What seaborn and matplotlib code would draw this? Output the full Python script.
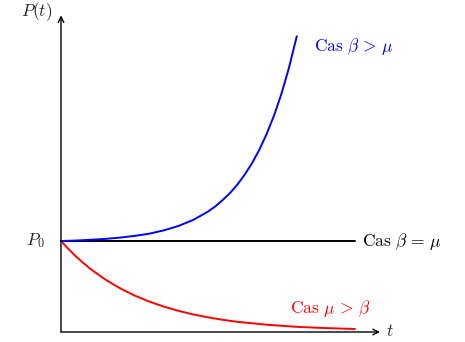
import matplotlib
matplotlib.use('Agg')
import matplotlib.pyplot as plt
import seaborn as sns

# courbes (t en unites arbitraires, P en unites de P0)
t_beta = [0, 0.5, 1, 1.5, 2, 2.5, 3, 3.5, 4, 4.5, 5, 5.25, 5.5, 5.75, 6,
          6.25, 6.5, 6.75, 7, 7.25, 7.5, 7.75, 8.02]
p_beta = [1.0, 1.005, 1.013, 1.023, 1.037, 1.056, 1.08, 1.117, 1.166, 1.232,
          1.323, 1.381, 1.45, 1.528, 1.62, 1.73, 1.856, 2.005, 2.18, 2.382,
          2.62, 2.898, 3.25]

t_eq = [0, 10]
p_eq = [1.0, 1.0]

t_mu = [0, 0.25, 0.5, 0.75, 1, 1.5, 2, 2.5, 3, 3.5, 4, 4.5, 5, 5.5, 6, 7, 8, 9, 10]
p_mu = [1.0, 0.913, 0.833, 0.761, 0.694, 0.578, 0.482, 0.401, 0.335, 0.279,
        0.232, 0.193, 0.161, 0.134, 0.112, 0.08, 0.057, 0.043, 0.033]

labels = [r'$\mathrm{Cas}\ \beta\,>\,\mu$', r'$\mathrm{Cas}\ \beta\,=\,\mu$',
          r'$\mathrm{Cas}\ \mu\,>\,\beta$']

sns.set_style('white')
plt.rcParams['font.family'] = ['DejaVu Serif']
plt.rcParams['mathtext.fontset'] = 'cm'

fig = plt.figure(figsize=(4.65, 3.42), dpi=100)
ax = fig.add_axes([0, 0, 1, 1])
ax.set_xlim(-61 / 29.4, 404 / 29.4)
ax.set_ylim(-10 / 91, 332 / 91)
ax.axis('off')

# axes avec fleches
ax.annotate('', xy=(10.85, 0), xytext=(0, 0),
            arrowprops=dict(arrowstyle='->', lw=1.0, color='black', shrinkA=0, shrinkB=0))
ax.annotate('', xy=(0, 3.48), xytext=(0, 0),
            arrowprops=dict(arrowstyle='->', lw=1.0, color='black', shrinkA=0, shrinkB=0))

sns.lineplot(x=t_eq, y=p_eq, color='black', lw=1.4, ax=ax, sort=False, estimator=None)
sns.lineplot(x=t_mu, y=p_mu, color='red', lw=1.4, ax=ax, sort=False, estimator=None)
sns.lineplot(x=t_beta, y=p_beta, color='blue', lw=1.4, ax=ax, sort=False, estimator=None)

fs = 12.5
ax.text(-0.3, 3.52, r'$P(t)$', fontsize=fs, ha='right', va='center')
ax.text(11.05, 0, r'$t$', fontsize=fs, ha='left', va='center')
ax.text(-0.55, 1.0, r'$P_0$', fontsize=fs, ha='right', va='center')
ax.text(8.6, 3.14, labels[0], fontsize=fs, color='blue', ha='left', va='center')
ax.text(10.25, 1.0, labels[1], fontsize=fs, color='black', ha='left', va='center')
ax.text(7.8, 0.26, labels[2], fontsize=fs, color='red', ha='left', va='center')

fig.savefig('out.png', dpi=100)
